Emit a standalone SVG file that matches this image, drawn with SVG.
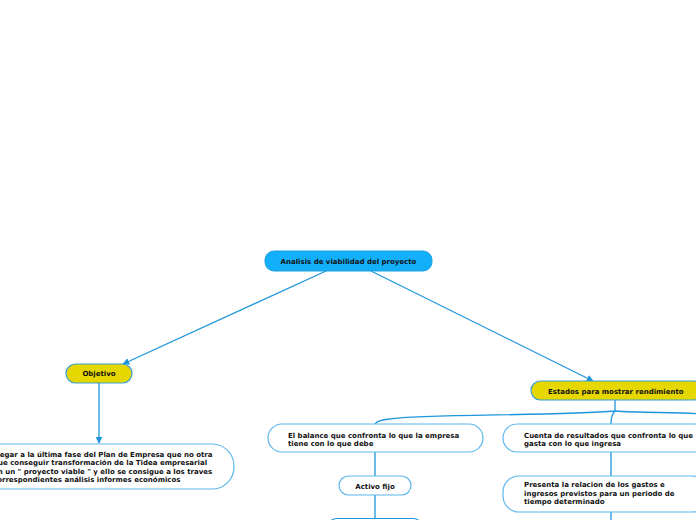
<svg xmlns="http://www.w3.org/2000/svg" width="696" height="520" viewBox="0 0 696 520">
<style>
text{font-family:"DejaVu Sans",Verdana,sans-serif;font-weight:bold;font-size:7px;fill:#111}
.c{text-anchor:middle}
.box{fill:#fff;stroke:#5cb6ec;stroke-width:1.2}
.yel{fill:#e6d700;stroke:#3a9fd6;stroke-width:1.2}
.ln{fill:none;stroke:#1f96dc;stroke-width:1.3}
</style>
<defs>
<marker id="ah" viewBox="0 0 10 10" refX="9" refY="5" markerWidth="7" markerHeight="7" orient="auto" markerUnits="userSpaceOnUse">
<path d="M0,0 L10,5 L0,10 z" fill="#1f96dc"/>
</marker>
</defs>
<rect width="696" height="520" fill="#fff"/>
<g id="connectors">
<line class="ln" x1="326" y1="271" x2="123" y2="364" marker-end="url(#ah)"/>
<line class="ln" x1="371" y1="271" x2="593" y2="381" marker-end="url(#ah)"/>
<line class="ln" x1="99" y1="383" x2="99" y2="443" marker-end="url(#ah)"/>
<path class="ln" d="M615,400 L615,411 C560,416 420,414 390,419 C380,420 376,422 375,424"/>
<path class="ln" d="M615,411 C640,413 680,412 700,414"/>
<path class="ln" d="M615,411 C612,414 611,418 611,424"/>
<line class="ln" x1="375" y1="452" x2="375" y2="476"/>
<line class="ln" x1="375" y1="495" x2="375" y2="518"/>
<line class="ln" x1="611" y1="452" x2="611" y2="476"/>
<line class="ln" x1="611" y1="512" x2="611" y2="522"/>
</g>
<g id="root">
<rect x="265" y="251" width="167" height="20" rx="9" fill="#12b0fa" stroke="#1e9de0" stroke-width="1"/>
<text class="c" x="348.5" y="263.5">Analisis de viabilidad del proyecto</text>
</g>
<g id="objetivo">
<rect class="yel" x="66" y="364" width="66" height="19" rx="9.5"/>
<text class="c" x="99" y="376">Objetivo</text>
</g>
<g id="objetivo-desc">
<rect class="box" x="-30" y="444" width="264" height="45" rx="22"/>
<text x="-7" y="456.5">Llegar a la última fase del Plan de Empresa que no otra</text>
<text x="-7" y="465">que conseguir transformación de la Tidea empresarial</text>
<text x="-7" y="473.5">en un " proyecto viable " y ello se consigue a los traves</text>
<text x="-7" y="482">correspondientes análisis informes económicos</text>
</g>
<g id="estados">
<rect class="yel" x="531" y="381" width="172" height="19" rx="9.5"/>
<text x="548" y="393.5">Estados para mostrar rendimiento</text>
</g>
<g id="balance">
<rect class="box" x="268" y="424" width="215" height="28" rx="14"/>
<text x="288" y="437.5">El balance que confronta lo que la empresa</text>
<text x="288" y="446">tiene con lo que debe</text>
</g>
<g id="activo">
<rect class="box" x="339" y="476" width="72" height="19" rx="9.5"/>
<text class="c" x="375" y="488.5">Activo fijo</text>
</g>
<g id="activo-child">
<rect x="327" y="518.5" width="96" height="20" rx="10" fill="#fff" stroke="#1f96dc" stroke-width="1.2"/>
</g>
<g id="cuenta">
<rect class="box" x="503" y="424" width="205" height="28" rx="14"/>
<text x="524" y="437.5">Cuenta de resultados que confronta lo que</text>
<text x="524" y="446">gasta con lo que ingresa</text>
</g>
<g id="presenta">
<rect class="box" x="503" y="476" width="205" height="36" rx="16"/>
<text x="524" y="487">Presenta la relacion de los gastos e</text>
<text x="524" y="495.5">ingresos previstos para un periodo de</text>
<text x="524" y="504">tiempo determinado</text>
</g>
</svg>
